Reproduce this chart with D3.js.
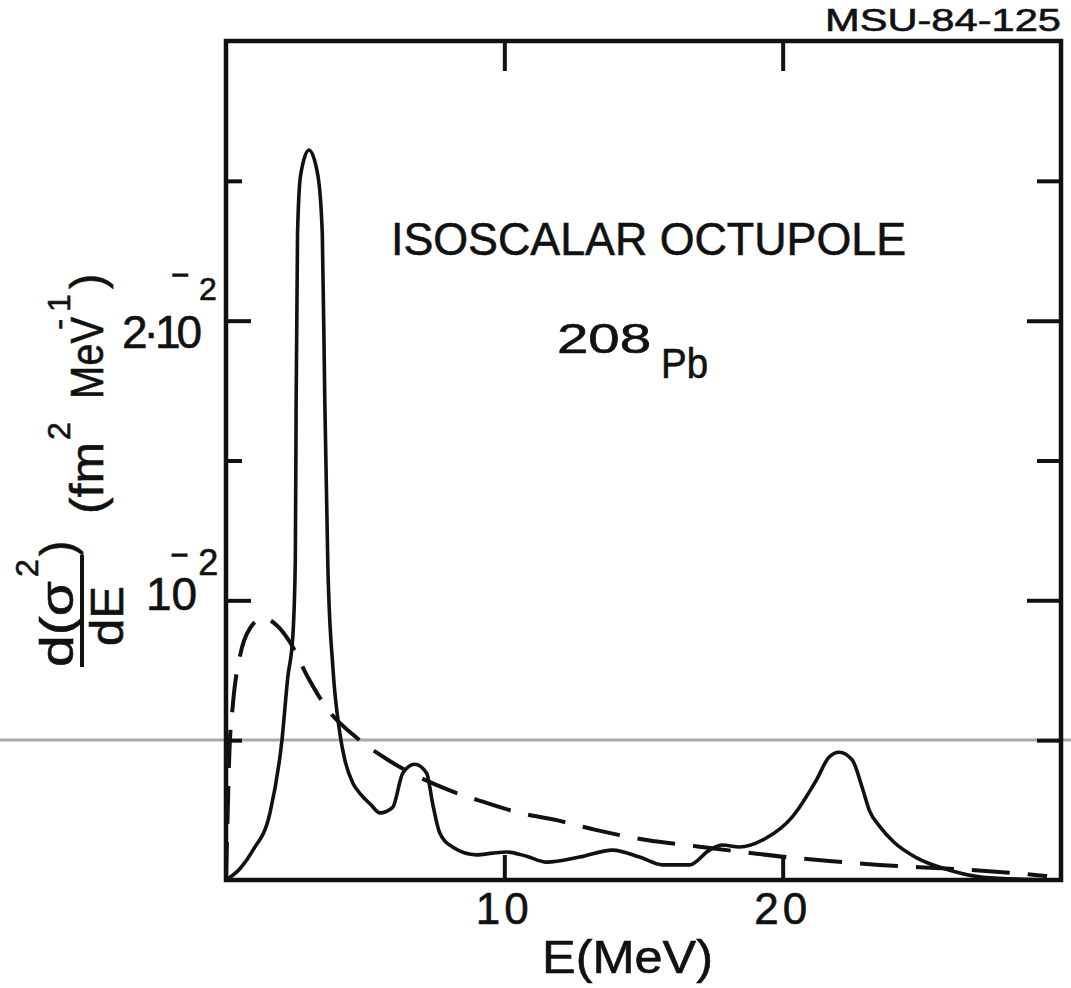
<!DOCTYPE html>
<html>
<head>
<meta charset="utf-8">
<script src="https://cdn.jsdelivr.net/npm/d3@7"></script>
<style>
  body { margin: 0; background: #fff; }
  text { font-family: "Liberation Sans", Arial, sans-serif; fill: #111; stroke: #111; stroke-width: 0.6; }
</style>
</head>
<body>
<script>
// solid curve (RPA strength), E in MeV
const rpaE = [0, 0.5, 0.97, 1.58, 2.01, 2.22, 2.40, 2.49, 2.52, 2.57,
  2.68, 2.98, 3.30, 3.46, 3.55, 3.66, 3.84, 4.09, 4.27, 4.56,
  4.81, 5.2, 5.53, 5.99, 6.35, 6.78, 7.21, 7.43, 7.68, 8.14,
  9.0, 9.58, 10.08, 10.8, 11.52, 12.7, 13.89, 14.86, 15.68, 16.65,
  17.37, 17.83, 18.44, 19.41, 20.34, 21.21, 21.67, 22.03, 22.5, 22.86,
  23.11, 23.5, 24.0, 24.8, 26.0, 27.2, 29.6];
const rpaVal = [0, 0.0004, 0.00107, 0.0024, 0.005, 0.00725, 0.0087, 0.0114, 0.0171, 0.0231,
  0.0252, 0.0261, 0.0252, 0.0231, 0.0171, 0.0112, 0.0076, 0.00525, 0.00429, 0.00346,
  0.0031, 0.0027, 0.0024, 0.0026, 0.00382, 0.00414, 0.00382, 0.0027, 0.00168, 0.00118,
  0.0009, 0.00096, 0.001, 0.00085, 0.00064, 0.00082, 0.00107, 0.00082, 0.00054, 0.00054,
  0.00107, 0.00125, 0.00118, 0.0015, 0.00225, 0.00357, 0.0044, 0.00457, 0.00429, 0.0033,
  0.0025, 0.0019, 0.00135, 0.0008, 0.00035, 0.0001, 0];

// dashed curve
const dashE = [0, 0.05, 0.12, 0.25, 0.5, 0.86, 1.33, 1.83, 2.3, 2.94,
  3.73, 4.56, 5.81, 7.79, 9.22, 10.55, 11.88, 13.24, 15.11, 16.94,
  18.55, 20.13, 21.67, 23.47, 24.9, 27.77, 29.5];
const dashVal = [0, 0.002, 0.0045, 0.0063, 0.008, 0.009, 0.00936, 0.0091, 0.0085, 0.00725,
  0.006, 0.0052, 0.0043, 0.0033, 0.0028, 0.0024, 0.00214, 0.0018, 0.00143, 0.0012,
  0.001, 0.00082, 0.00068, 0.00054, 0.00046, 0.00029, 0.00014];

const xTicks = [10, 20];
const yMajor = [0.01, 0.02];
const yMinor = [0.005, 0.015, 0.025];
const yTickText = ["10", "2·10"];
const yTickExp = "2";

const W = 1071, H = 988;
const svg = d3.select("body").append("svg").attr("width", W).attr("height", H);
svg.append("rect").attr("width", W).attr("height", H).attr("fill", "#fff");

const x = d3.scaleLinear().domain([0, 30]).range([226, 1061]);
const y = d3.scaleLinear().domain([0, 0.03]).range([880, 41]);

// grey scanner line across the sheet
svg.append("line").attr("x1", 0).attr("x2", W).attr("y1", 740).attr("y2", 740)
  .attr("stroke", "#aaa").attr("stroke-width", 3);

// ticks, all pointing inward
function ticks(axis, pos) {
  const g = svg.append("g").attr("transform", pos).call(axis);
  g.select(".domain").remove();
  g.selectAll("text").remove();
  g.selectAll("line").attr("stroke", "#111").attr("stroke-width", 4);
}
ticks(d3.axisBottom(x).tickValues(xTicks).tickSize(-25), "translate(0,880)");
ticks(d3.axisTop(x).tickValues(xTicks).tickSize(-30), "translate(0,41)");
ticks(d3.axisLeft(y).tickValues(yMajor).tickSize(-25), "translate(226,0)");
ticks(d3.axisLeft(y).tickValues(yMinor).tickSize(-16), "translate(226,0)");
ticks(d3.axisRight(y).tickValues(yMajor).tickSize(-34), "translate(1061,0)");
ticks(d3.axisRight(y).tickValues(yMinor).tickSize(-24), "translate(1061,0)");

// frame
svg.append("rect")
  .attr("x", x(0)).attr("y", y(0.03))
  .attr("width", x(30) - x(0)).attr("height", y(0) - y(0.03))
  .attr("fill", "none").attr("stroke", "#111").attr("stroke-width", 4.5);

// curves
const line = d3.line().x(d => x(d[0])).y(d => y(d[1])).curve(d3.curveMonotoneX);

svg.append("path")
  .datum(d3.zip(dashE, dashVal))
  .attr("d", line)
  .attr("fill", "none").attr("stroke", "#111").attr("stroke-width", 4)
  .attr("stroke-dasharray", "38,18");

svg.append("path")
  .datum(d3.zip(rpaE, rpaVal))
  .attr("d", line)
  .attr("fill", "none").attr("stroke", "#111").attr("stroke-width", 3.6)
  .attr("stroke-linejoin", "round");

// x tick labels
svg.selectAll(".xl").data(xTicks).join("text")
  .attr("x", d => x(d)).attr("y", 924)
  .attr("text-anchor", "middle").attr("font-size", 44)
  .attr("letter-spacing", 4)
  .text(d => d);

svg.append("text").attr("x", 542).attr("y", 973).attr("font-size", 46)
  .attr("textLength", 171).attr("lengthAdjust", "spacingAndGlyphs")
  .text("E(MeV)");

// y tick labels: mantissa, then the minus sitting over the 0, then the exponent
const yLab = [
  { x0: 146, base: 10, ls: 0, dash: [-25, -48], sup: [11.5, 13], supSize: 36 },
  { x0: 122, base: 27, ls: -4, dash: [-25, -66], sup: [11.5, 18.5], supSize: 32 }
];
yMajor.forEach((v, i) => {
  const L = yLab[i];
  const t = svg.append("text").attr("x", L.x0).attr("y", y(v) + L.base).attr("font-size", 46);
  t.append("tspan").attr("letter-spacing", L.ls).text(yTickText[i]);
  t.append("tspan").attr("font-size", 26).attr("stroke-width", 1.5)
    .attr("dx", L.dash[0]).attr("dy", L.dash[1]).text("–");
  t.append("tspan").attr("font-size", L.supSize).attr("dx", L.sup[0]).attr("dy", L.sup[1]).text(yTickExp);
});

// y title, rotated
const yt = svg.append("g").attr("transform", "rotate(-90)");
function rt(txt, sy, sx, size, len) {
  const t = yt.append("text").attr("x", -sy).attr("y", sx).attr("font-size", size).text(txt);
  if (len) t.attr("textLength", len).attr("lengthAdjust", "spacingAndGlyphs");
  return t;
}
rt("d(σ", 667, 73, 46, 86);
rt("2", 577, 38, 32);
rt(")", 556, 73, 46);
yt.append("line").attr("x1", -667).attr("x2", -555).attr("y1", 82).attr("y2", 82)
  .attr("stroke", "#111").attr("stroke-width", 4);
rt("dE", 646, 123, 46, 60);
rt("(fm", 514, 103, 46, 72);
rt("2", 440, 70, 32);
rt("MeV", 399, 103, 46, 82);
rt("-", 330, 70, 34);
rt("1", 312, 70, 32);
rt(")", 289, 103, 46);

// annotations
svg.append("text").attr("x", 391).attr("y", 255).attr("font-size", 46)
  .attr("textLength", 515).attr("lengthAdjust", "spacingAndGlyphs")
  .text("ISOSCALAR OCTUPOLE");
svg.append("text").attr("x", 557).attr("y", 353).attr("font-size", 42)
  .attr("textLength", 94).attr("lengthAdjust", "spacingAndGlyphs")
  .text("208");
svg.append("text").attr("x", 661).attr("y", 378).attr("font-size", 42)
  .attr("textLength", 47).attr("lengthAdjust", "spacingAndGlyphs")
  .text("Pb");
svg.append("text").attr("x", 1061).attr("y", 31).attr("font-size", 32)
  .attr("text-anchor", "end")
  .attr("textLength", 236).attr("lengthAdjust", "spacingAndGlyphs")
  .text("MSU-84-125");
</script>
</body>
</html>
